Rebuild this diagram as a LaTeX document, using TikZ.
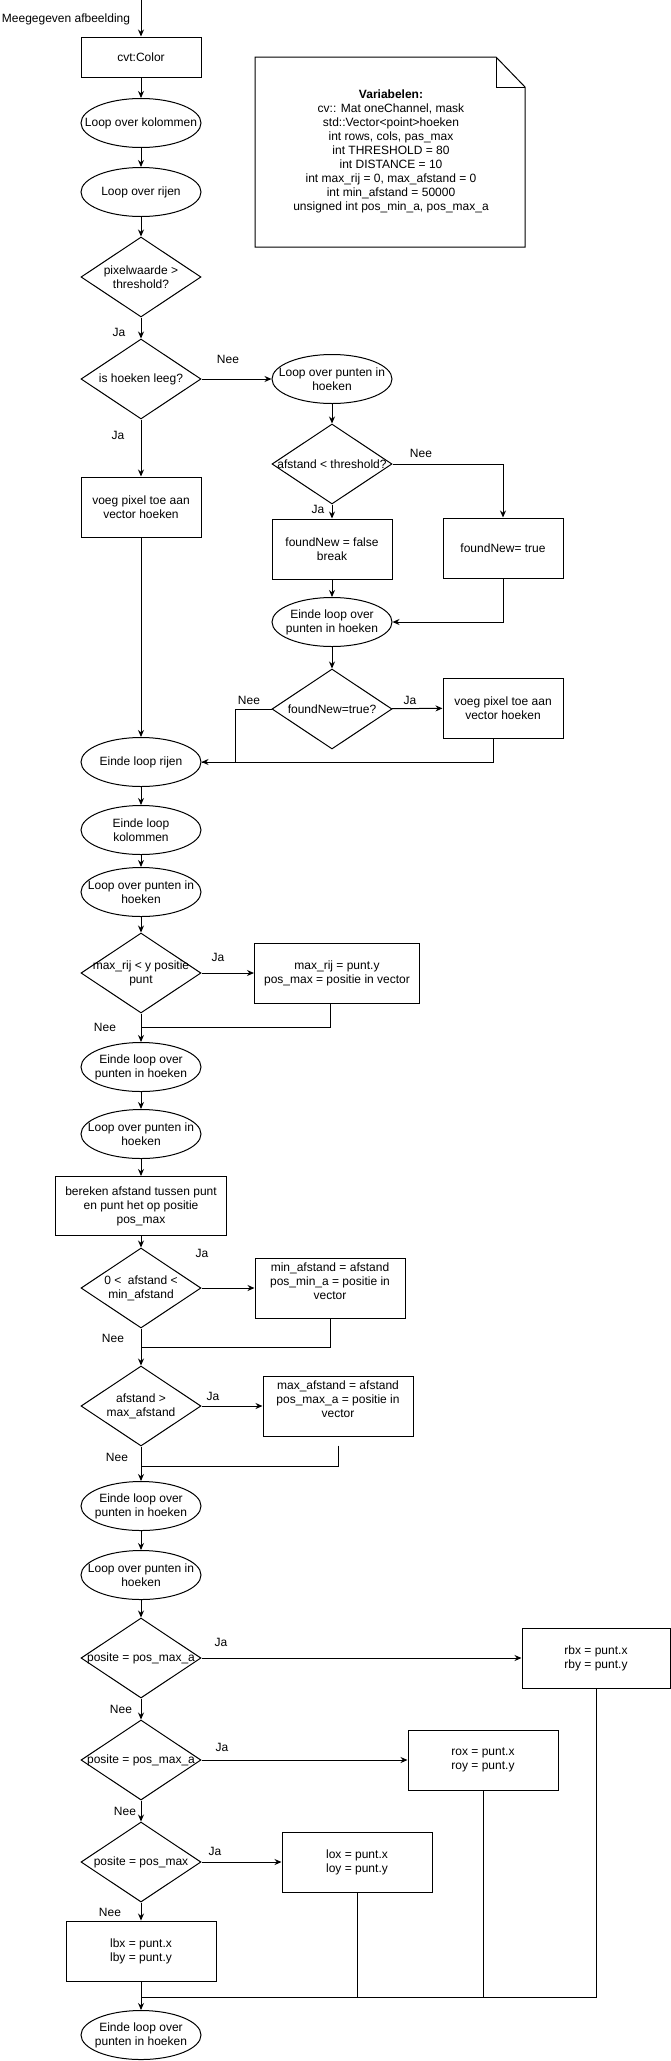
\documentclass[tikz,border=0pt]{standalone}
\usepackage{fontspec}
\setmainfont{Liberation Sans}
\usetikzlibrary{arrows.meta,shapes.geometric}

\begin{document}
\begin{tikzpicture}[x=1pt,y=-1pt,line width=1pt,
  every node/.style={font=\fontsize{12}{14}\selectfont},
  blok/.style={draw,rectangle,minimum width=120pt,minimum height=60pt,align=center,inner sep=2pt},
  blokhoog/.style={blok,minimum width=150pt,label={[align=center,yshift=7pt]center:#1}},
  lus/.style={draw,ellipse,minimum width=120pt,minimum height=49pt,inner sep=0pt,
    label={[align=center]center:#1}},
  keuze/.style={draw,diamond,minimum width=120pt,minimum height=80pt,inner sep=0pt,
    label={[align=center]center:#1}},
  pijl/.style={-{Stealth[length=7pt,width=6pt]}}]
\useasboundingbox (0,0) rectangle (671,2061);

\node (invoer) at (66,19) {Meegegeven afbeelding};
\node[blok,minimum height=40pt] (cvt) at (141,57) {cvt:Color};
\node[lus={Loop over kolommen}] (kol) at (141,123) {};
\node[lus={Loop over rijen}] (rij) at (141,192) {};
\node[keuze={pixelwaarde >\\threshold?}] (pix) at (141,277) {};
\node[keuze={is hoeken leeg?}] (leeg) at (141,379) {};
\node[blok] (voeg1) at (141,507) {voeg pixel toe aan\\vector hoeken};
\node[lus={Loop over punten in\\hoeken}] (punt1) at (332,379) {};
\node[keuze={afstand < threshold?}] (afst) at (332,464) {};
\node[blok] (fals) at (332,549) {foundNew = false\\break};
\node[blok] (waar) at (503,548) {foundNew= true};
\node[lus={Einde loop over\\punten in hoeken}] (eind1) at (332,622) {};
\node[keuze={foundNew=true?}] (nieuw) at (332,709) {};
\node[blok] (voeg2) at (503,708) {voeg pixel toe aan\\vector hoeken};
\node[lus={Einde loop rijen}] (eindrij) at (141,762) {};
\node[lus={Einde loop\\kolommen}] (eindkol) at (141,830) {};
\node[lus={Loop over punten in\\hoeken}] (punt2) at (141,892) {};
\node[keuze={max\_rij < y positie\\punt}] (maxrij) at (141,973) {};
\node[blok,minimum width=165pt] (zetrij) at (337,973) {max\_rij = punt.y\\pos\_max = positie in vector};
\node[lus={Einde loop over\\punten in hoeken}] (eind2) at (141,1067) {};
\node[lus={Loop over punten in\\hoeken}] (punt3) at (141,1134) {};
\node[blok,minimum width=171pt,minimum height=59pt] (bereken) at (141,1206) {bereken afstand tussen punt\\en punt het op positie\\pos\_max};
\node[keuze={0 <\ \ afstand <\\min\_afstand}] (mina) at (141,1288) {};
\node[blokhoog={min\_afstand = afstand\\pos\_min\_a = positie in\\vector}] (zetmin) at (330,1288) {};
\node[keuze={afstand >\\max\_afstand}] (maxa) at (141,1406) {};
\node[blokhoog={max\_afstand = afstand\\pos\_max\_a = positie in\\vector}] (zetmax) at (338,1406) {};
\node[lus={Einde loop over\\punten in hoeken}] (eind3) at (141,1506) {};
\node[lus={Loop over punten in\\hoeken}] (punt4) at (141,1575) {};
\node[keuze={posite = pos\_max\_a}] (rb) at (141,1658) {};
\node[blok,minimum width=148pt] (zetrb) at (596,1658) {rbx = punt.x\\rby = punt.y};
\node[keuze={posite = pos\_max\_a}] (ro) at (141,1760) {};
\node[blok,minimum width=150pt] (zetro) at (483,1760) {rox = punt.x\\roy = punt.y};
\node[keuze={posite = pos\_max}] (lo) at (141,1862) {};
\node[blok,minimum width=150pt] (zetlo) at (357,1862) {lox = punt.x\\loy = punt.y};
\node[blok,minimum width=150pt] (zetlb) at (141,1951) {lbx = punt.x\\lby = punt.y};
\node[lus={Einde loop over\\punten in hoeken}] (eind4) at (141,2035) {};

\draw (255,57) -- (496,57) -- (525,87) -- (525,247) -- (255,247) -- cycle;
\draw (496,57) -- (496,87) -- (525,87);
\node[align=center] (var) at (391,151) {\textbf{Variabelen:}\\cv:: Mat oneChannel, mask\\std::Vector<point>hoeken\\int rows, cols, pas\_max\\int THRESHOLD = 80\\int DISTANCE = 10\\int max\_rij = 0, max\_afstand = 0\\int min\_afstand = 50000\\unsigned int pos\_min\_a, pos\_max\_a};

\node (ja1) at (119,332) {Ja};
\node (nee1) at (228,359) {Nee};
\node (ja2) at (118,435) {Ja};
\node (nee2) at (421,453) {Nee};
\node (ja3) at (318,509) {Ja};
\node (nee3) at (249,700) {Nee};
\node (ja4) at (410,700) {Ja};
\node (ja5) at (218,957) {Ja};
\node (nee4) at (105,1027) {Nee};
\node (ja6) at (202,1253) {Ja};
\node (nee5) at (113,1338) {Nee};
\node (ja7) at (213,1396) {Ja};
\node (nee6) at (117,1457) {Nee};
\node (ja8) at (221,1642) {Ja};
\node (nee7) at (121,1709) {Nee};
\node (ja9) at (222,1747) {Ja};
\node (nee8) at (125,1811) {Nee};
\node (ja10) at (215,1851) {Ja};
\node (nee9) at (110,1912) {Nee};

\coordinate (start) at (141,0);
\draw[pijl] (start) -- (cvt);
\draw[pijl] (cvt) -- (kol);
\draw[pijl] (kol) -- (rij);
\draw[pijl] (rij) -- (pix);
\draw[pijl] (pix) -- (leeg);
\draw[pijl] (leeg) -- (voeg1);
\draw[pijl] (voeg1) -- (eindrij);
\draw[pijl] (leeg) -- (punt1);
\draw[pijl] (punt1) -- (afst);
\draw[pijl] (afst) -- (fals);
\draw[pijl] (afst.east) -| (waar.north);
\draw[pijl] (fals) -- (eind1);
\draw[pijl] (waar.south) |- (eind1.east);
\draw[pijl] (eind1) -- (nieuw);
\draw[pijl] (nieuw) -- (voeg2);
\draw (nieuw.west) -- ++(-36,0) |- (eindrij.east);
\draw[pijl] ([xshift=-10pt]voeg2.south) |- (eindrij.east);
\draw[pijl] (eindrij) -- (eindkol);
\draw[pijl] (eindkol) -- (punt2);
\draw[pijl] (punt2) -- (maxrij);
\draw[pijl] (maxrij) -- (zetrij);
\draw[pijl] (maxrij) -- (eind2);
\coordinate (samen1) at (141,1027);
\draw ([xshift=-7pt]zetrij.south) |- (samen1);
\draw[pijl] (eind2) -- (punt3);
\draw[pijl] (punt3) -- (bereken);
\draw[pijl] (bereken) -- (mina);
\draw[pijl] (mina) -- (zetmin);
\draw[pijl] (mina) -- (maxa);
\coordinate (samen2) at (141,1347);
\draw (zetmin.south) |- (samen2);
\draw[pijl] (maxa) -- (zetmax);
\draw[pijl] (maxa) -- (eind3);
\coordinate (samen3) at (141,1466);
\draw[shorten <=9pt] (zetmax.south) |- (samen3);
\draw[pijl] (eind3) -- (punt4);
\draw[pijl] (punt4) -- (rb);
\draw[pijl] (rb) -- (zetrb);
\draw[pijl] (rb) -- (ro);
\draw[pijl] (ro) -- (zetro);
\draw[pijl] (ro) -- (lo);
\draw[pijl] (lo) -- (zetlo);
\draw[pijl] (lo) -- (zetlb);
\draw[pijl] (zetlb) -- (eind4);
\coordinate (samen4) at (141,1997);
\draw (zetlo.south) |- (samen4);
\draw (zetro.south) |- (samen4);
\draw (zetrb.south) |- (samen4);
\end{tikzpicture}
\end{document}
